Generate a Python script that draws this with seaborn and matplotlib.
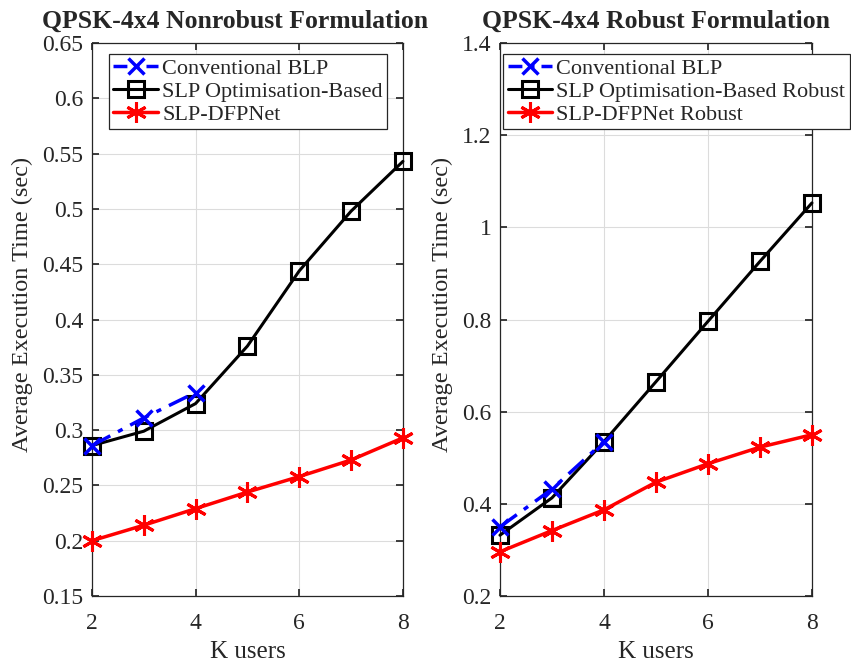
import seaborn as sns
import matplotlib.pyplot as plt
import pandas as pd
from matplotlib.ticker import FuncFormatter

# Werte
k_users = [2, 3, 4, 5, 6, 7, 8]
k_blp = [2, 3, 4]

blp_nonrobust = [0.286, 0.311, 0.334]
slp_opt_nonrobust = [0.286, 0.299, 0.324, 0.376, 0.444, 0.498, 0.543]
dfpnet_nonrobust = [0.200, 0.214, 0.229, 0.244, 0.258, 0.273, 0.293]

blp_robust = [0.350, 0.432, 0.535]
slp_opt_robust = [0.332, 0.413, 0.535, 0.665, 0.796, 0.926, 1.053]
dfpnet_robust = [0.296, 0.342, 0.387, 0.447, 0.487, 0.523, 0.550]

titles = ["QPSK-4x4 Nonrobust Formulation", "QPSK-4x4 Robust Formulation"]
legend_names = [
    ["Conventional BLP", "SLP Optimisation-Based", "SLP-DFPNet"],
    ["Conventional BLP", "SLP Optimisation-Based Robust", "SLP-DFPNet Robust"],
]
y_ticks = [
    [0.15, 0.2, 0.25, 0.3, 0.35, 0.4, 0.45, 0.5, 0.55, 0.6, 0.65],
    [0.2, 0.4, 0.6, 0.8, 1.0, 1.2, 1.4],
]

sns.set_theme(style="ticks")
plt.rcParams["font.family"] = ["Liberation Serif", "DejaVu Serif"]

fig = plt.figure(figsize=(8.51, 6.64), dpi=100)
ax1 = fig.add_axes([0.108, 0.1024, 0.3655, 0.8328])
ax2 = fig.add_axes([0.5875, 0.1024, 0.3666, 0.8328])

data = [
    (blp_nonrobust, slp_opt_nonrobust, dfpnet_nonrobust),
    (blp_robust, slp_opt_robust, dfpnet_robust),
]
dashdot = [6, 2.5, 1.5, 2.5]

for i, ax in enumerate([ax1, ax2]):
    blp, slp, dfp = data[i]
    names = legend_names[i]
    df_blp = pd.DataFrame({"K": k_blp, "t": blp})
    df_slp = pd.DataFrame({"K": k_users, "t": slp})
    df_dfp = pd.DataFrame({"K": k_users, "t": dfp})

    sns.lineplot(data=df_blp, x="K", y="t", ax=ax, color="blue",
                 linewidth=2.5, dashes=False, marker="x", markersize=11,
                 markeredgewidth=2.5, markeredgecolor="blue", label=names[0],
                 clip_on=False, zorder=4)
    sns.lineplot(data=df_slp, x="K", y="t", ax=ax, color="black", linewidth=2.2,
                 marker="s", markersize=12, markerfacecolor="none",
                 markeredgecolor="black", markeredgewidth=2.2, label=names[1],
                 clip_on=False, zorder=3)
    sns.lineplot(data=df_dfp, x="K", y="t", ax=ax, color="red", linewidth=2.5,
                 marker=(6, 2, 0), markersize=15, markeredgewidth=2.2,
                 markeredgecolor="red", label=names[2], clip_on=False, zorder=3)
    # MATLAB-artige Strich-Punkt-Linie
    ax.lines[0].set_dashes(dashdot)

    ax.set_xlim(2, 8)
    ax.set_ylim(y_ticks[i][0], y_ticks[i][-1])
    ax.set_xticks([2, 4, 6, 8])
    ax.set_yticks(y_ticks[i])
    ax.yaxis.set_major_formatter(FuncFormatter(lambda v, p: "%g" % round(v, 2)))
    ax.grid(True, color="#dcdcdc", linewidth=0.8)
    ax.tick_params(direction="in", top=True, right=True, length=5,
                   labelsize=17, colors="#262626", pad=6)
    ax.tick_params(axis="x", pad=12)
    for s in ax.spines.values():
        s.set_color("#262626")
        s.set_linewidth(0.9)
    ax.set_xlabel("K users", fontsize=18, color="#262626", labelpad=5)
    ax.set_ylabel("Average Execution Time (sec)", fontsize=17.5, color="#262626")
    ax.yaxis.set_label_coords(-0.19 if i == 0 else -0.15, 0.527)
    ax.set_title(titles[i], fontsize=18.5, fontweight="bold", pad=11,
                 x=0.46 if i == 0 else 0.5)

    leg = ax.legend(loc="upper left",
                    bbox_to_anchor=(0.055, 0.98) if i == 0 else (0.01, 0.98),
                    fontsize=16, frameon=True, fancybox=False, framealpha=1,
                    edgecolor="#262626", borderpad=0.2, labelspacing=0.1,
                    handlelength=2.0, handletextpad=0.2, borderaxespad=0)
    leg.get_frame().set_linewidth(0.9)
    leg.get_lines()[0].set_dashes([4, 2, 1.5, 2])
    leg.set_zorder(10)

fig.savefig("out.png", dpi=100)
